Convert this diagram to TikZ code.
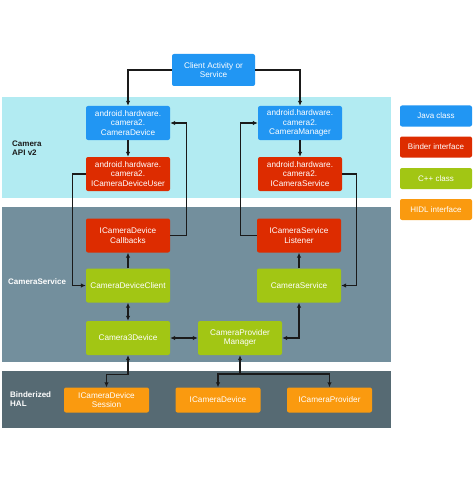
\documentclass[tikz,border=0pt]{standalone}
\usepackage{fontspec}
\setmainfont{Liberation Sans}
\usetikzlibrary{arrows.meta}
\definecolor{jblue}{HTML}{2196F3}
\definecolor{bred}{HTML}{DD2C00}
\definecolor{cgreen}{HTML}{A2C614}
\definecolor{horange}{HTML}{FA9A0F}
\definecolor{bandA}{HTML}{B2EBF2}
\definecolor{bandB}{HTML}{738F9D}
\definecolor{bandC}{HTML}{566A73}
\definecolor{ink}{HTML}{1A1A1A}
\begin{document}
\begin{tikzpicture}[x=1pt,y=-1pt,
  box/.style={rounded corners=2pt, minimum width=84pt, minimum height=34pt, text=white, align=center, inner sep=1pt, font=\fontsize{8.2}{9.6}\selectfont},
  hal/.style={box, fill=horange, minimum width=85pt, minimum height=25pt},
  leg/.style={box, minimum width=72pt, minimum height=21pt, font=\fontsize{8}{9}\selectfont},
  bandlabel/.style={anchor=west, align=left, font=\bfseries\fontsize{8}{9.5}\selectfont, inner sep=0pt},
  conn/.style={draw=ink, line width=1.1pt},
  arr/.style={conn, -{Latex[length=5pt,width=4.5pt]}},
  darr/.style={conn, {Latex[length=5pt,width=4.5pt]}-{Latex[length=5pt,width=4.5pt]}},
  sarr/.style={conn, {Latex[length=5pt,width=4.5pt]}-}]
\useasboundingbox (0,0) rectangle (474,484);
\fill[white] (0,0) rectangle (474,484);
% bands
\fill[bandA] (2,97) rectangle (391,198);
\fill[bandB] (2,207) rectangle (391,362);
\fill[bandC] (2,371) rectangle (391,428);
\node[bandlabel, text=ink] (lblA) at (12,148) {Camera\\API v2};
\node[bandlabel, text=white] (lblB) at (8,282) {CameraService};
\node[bandlabel, text=white] (lblC) at (10,399) {Binderized\\HAL};
% nodes
\node[box, fill=jblue, minimum width=83pt, minimum height=32pt] (client) at (213.5,70) {Client Activity or\\Service};
\node[box, fill=jblue] (cdev) at (128,123) {android.hardware.\\camera2.\\CameraDevice};
\node[box, fill=bred] (cdu) at (128,174) {android.hardware.\\camera2.\\ICameraDeviceUser};
\node[box, fill=jblue] (cman) at (300,123) {android.hardware.\\camera2.\\CameraManager};
\node[box, fill=bred] (ics) at (300,174) {android.hardware.\\camera2.\\ICameraService};
\node[box, fill=bred] (cb) at (128,235.5) {ICameraDevice\\Callbacks};
\node[box, fill=cgreen] (cdc) at (128,285.5) {CameraDeviceClient};
\node[box, fill=cgreen] (c3d) at (128,338) {Camera3Device};
\node[box, fill=cgreen] (cpm) at (240,338) {CameraProvider\\Manager};
\node[box, fill=cgreen] (cs) at (299,285.5) {CameraService};
\node[box, fill=bred] (icsl) at (299,235.5) {ICameraService\\Listener};
\node[hal] (sess) at (106.5,400) {ICameraDevice\\Session};
\node[hal] (idev) at (218,400) {ICameraDevice};
\node[hal] (iprov) at (329.5,400) {ICameraProvider};
% legend
\node[leg, fill=jblue] (lj) at (436,116) {Java class};
\node[leg, fill=bred] (lb) at (436,147) {Binder interface};
\node[leg, fill=cgreen] (lc) at (436,178.5) {C++ class};
\node[leg, fill=horange] (lh) at (436,209.5) {HIDL interface};
% connectors
\draw[arr] (client.west) -| (cdev.north);
\draw[arr] (client.east) -| (cman.north);
\draw[arr] (cdev) -- (cdu);
\draw[arr] (cman) -- (ics);
\draw[arr] (cdu.west) -- ++(-13,0) |- (cdc.west);
\draw[arr] (cb.east) -- ++(16,0) |- (cdev.east);
\draw[arr] (cdc) -- (cb);
\draw[darr] (cdc) -- (c3d);
\draw[darr] (c3d) -- (cpm);
\draw[arr] (icsl.west) -- ++(-16,0) |- (cman.west);
\draw[arr] (ics.east) -- ++(14,0) |- (cs.east);
\draw[arr] (cs) -- (icsl);
\draw[darr] (cpm.east) -| (cs.south);
\draw[darr] (c3d.south) -- ++(0,19) -| (sess.north);
\coordinate (br) at (240,374);
\draw[sarr] (cpm.south) -- (br);
\draw[arr] (br) -| (idev.north);
\draw[arr] (br) -| (iprov.north);
\end{tikzpicture}
\end{document}
